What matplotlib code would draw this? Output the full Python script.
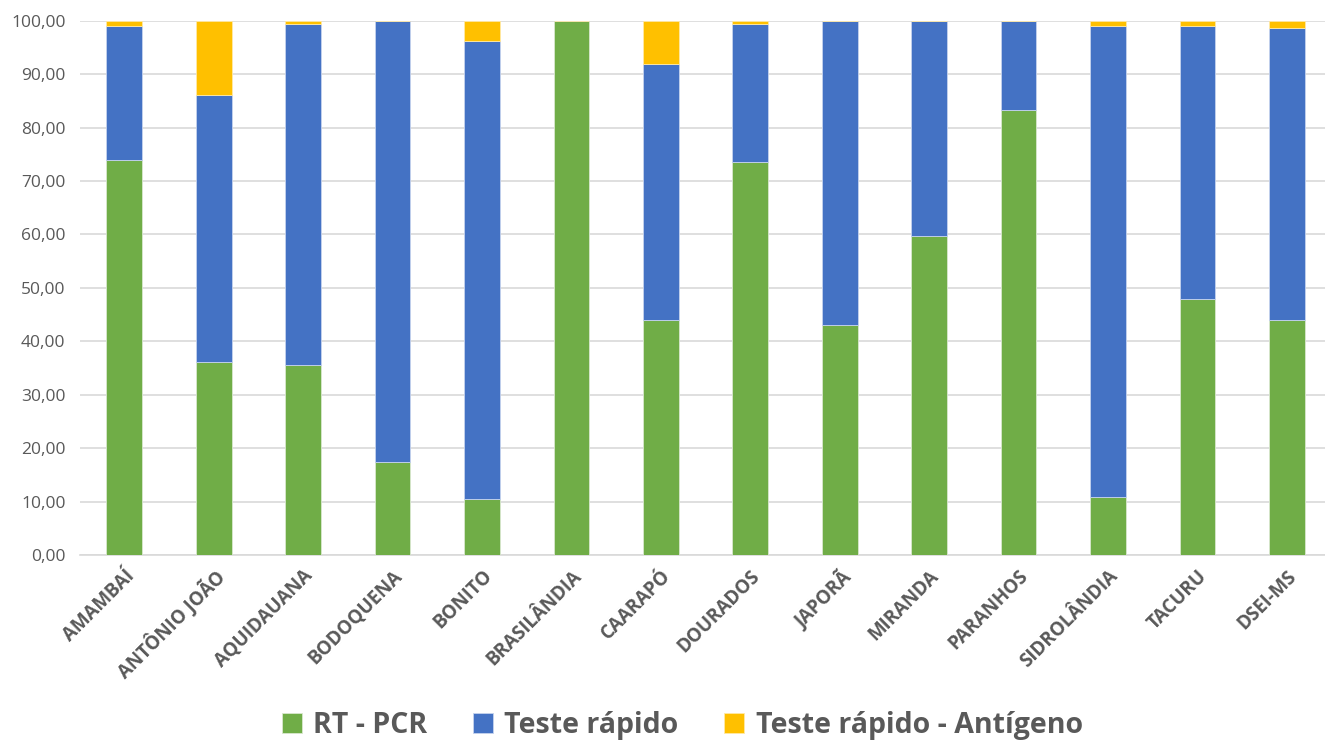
import matplotlib.pyplot as plt
import numpy as np

# Dados por polo base
categorias = ['AMAMBAÍ', 'ANTÔNIO JOÃO', 'AQUIDAUANA', 'BODOQUENA', 'BONITO',
              'BRASILÂNDIA', 'CAARAPÓ', 'DOURADOS', 'JAPORÃ', 'MIRANDA',
              'PARANHOS', 'SIDROLÂNDIA', 'TACURU', 'DSEI-MS']
rt_pcr = [74.0, 36.1, 35.6, 17.4, 10.5, 100.0, 44.0, 73.6, 43.1, 59.7,
          83.3, 10.9, 47.9, 44.0]
teste_rapido = [25.0, 50.0, 63.8, 82.6, 85.8, 0.0, 47.9, 25.8, 56.9, 40.3,
                16.7, 88.2, 51.2, 54.7]
teste_antigeno = [1.0, 13.9, 0.6, 0.0, 3.7, 0.0, 8.1, 0.6, 0.0, 0.0,
                  0.0, 0.9, 0.9, 1.3]

cor_texto = '#595959'
plt.rcParams['font.family'] = ['Open Sans', 'DejaVu Sans']

fig = plt.figure(figsize=(13.25, 7.43), dpi=100)
ax = fig.add_axes([0.060, 0.253, 0.945, 0.719])

x = np.arange(len(categorias))
largura = 0.4
base2 = np.array(rt_pcr)
base3 = base2 + np.array(teste_rapido)
ax.bar(x, rt_pcr, largura, color='#70AD47', edgecolor='#d9e8cf', linewidth=0.6,
       label='RT - PCR', zorder=3)
ax.bar(x, teste_rapido, largura, bottom=base2, color='#4472C4', edgecolor='#c5d3ee',
       linewidth=0.6, label='Teste rápido', zorder=3)
ax.bar(x, teste_antigeno, largura, bottom=base3, color='#FFC000', edgecolor='#ffe9a6',
       linewidth=0.6, label='Teste rápido - Antígeno', zorder=3)

ax.set_xlim(-0.5, len(categorias) - 0.5)
ax.set_ylim(0, 100)
ax.set_yticks(np.arange(0, 101, 10))
ax.set_yticklabels([f'{v:.2f}'.replace('.', ',') for v in range(0, 101, 10)],
                   fontsize=12.5, color=cor_texto)
ax.set_xticks(x)
ax.set_xticklabels(categorias, rotation=45, ha='right', rotation_mode='anchor',
                   fontsize=13.5, fontweight='bold', color=cor_texto)
ax.tick_params(axis='y', length=0, pad=10)
ax.tick_params(axis='x', length=0, pad=8)
ax.grid(axis='y', color='#d9d9d9', linewidth=1.2, zorder=0)
for s in ['top', 'right', 'left']:
    ax.spines[s].set_visible(False)
ax.spines['bottom'].set_color('#d9d9d9')
ax.spines['bottom'].set_linewidth(1.2)

leg = fig.legend(loc='lower center', bbox_to_anchor=(0.515, -0.03), ncol=3, frameon=False,
                 prop={'size': 20.5, 'weight': 'bold'}, handlelength=0.7, handleheight=0.7,
                 handletextpad=0.4, columnspacing=1.6)
for t in leg.get_texts():
    t.set_color(cor_texto)

fig.savefig('out.png', dpi=100)
